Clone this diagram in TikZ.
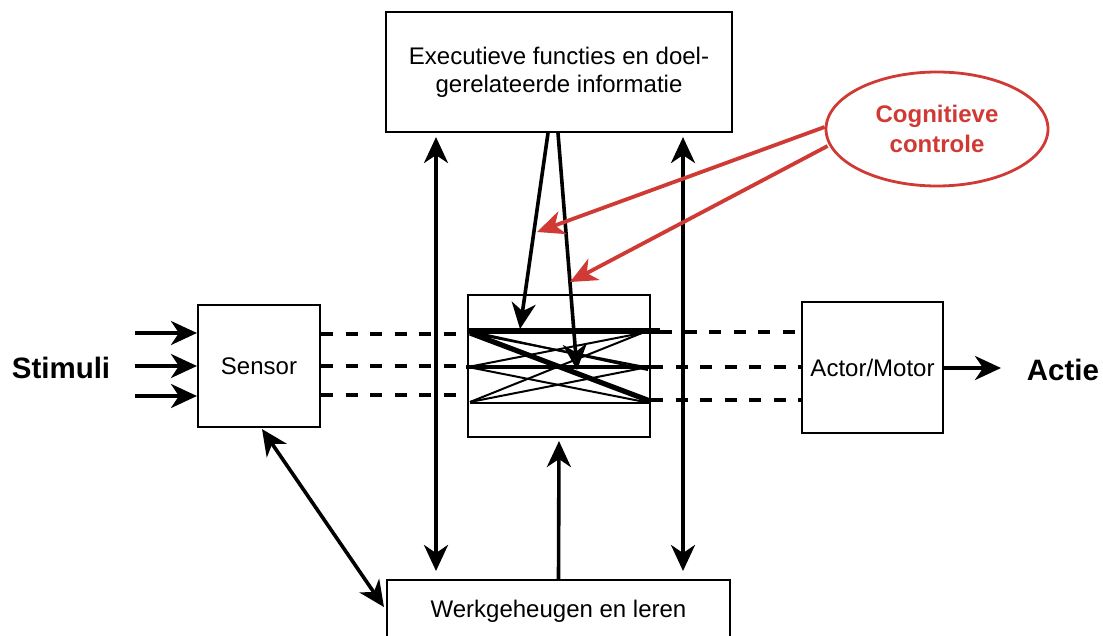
\documentclass[tikz,border=0pt]{standalone}
\usepackage{fontspec}
\setmainfont{Liberation Sans}
\usetikzlibrary{arrows.meta,shapes.geometric,calc}
\definecolor{ctrlred}{RGB}{208,58,52}
\begin{document}
\begin{tikzpicture}[x=1pt,y=-1pt,
  box/.style={draw=black,line width=2.1pt,inner sep=0pt,align=center,
    font=\fontsize{24}{28}\selectfont},
  arr/.style={line width=3.6pt,-{Stealth[length=26pt,width=24pt,inset=8pt]}},
  dbl/.style={line width=3.6pt,{Stealth[length=26pt,width=24pt,inset=8pt]}-{Stealth[length=26pt,width=24pt,inset=8pt]}},
  redarr/.style={draw=ctrlred,line width=3.8pt,-{Stealth[length=27pt,width=24pt,inset=8pt]}},
  dashline/.style={line width=3.8pt,dash pattern=on 12pt off 12.5pt},
  biglabel/.style={font=\fontsize{29.5}{34}\selectfont\bfseries},
]
\clip (0,0) rectangle (1103,635);

% blocks
\node[box,minimum width=346pt,minimum height=120pt] (top) at (559,72)
  {Executieve functies en doel-\\gerelateerde informatie};
\node[box,minimum width=122pt,minimum height=122pt] (sensor) at (259,366) {Sensor};
\node[box,minimum width=141pt,minimum height=131pt] (actor) at (872.5,367.5) {Actor/Motor};
\node[box,minimum width=182pt,minimum height=142pt] (mix) at (559,366) {};
\node[box,minimum width=343pt,minimum height=62pt,anchor=north] (bottom) at (558.5,579)
  {Werkgeheugen en leren};
\node[ellipse,draw=ctrlred,line width=2.8pt,minimum width=222pt,minimum height=114pt,
  inner sep=0pt,align=center,text=ctrlred,font=\fontsize{24}{30}\selectfont\bfseries]
  (ctrl) at (937,129) {Cognitieve\\controle};

% outer labels
\node[biglabel] (stim) at (61,368) {Stimuli};
\node[biglabel] (actie) at (1063,370) {Actie};

% incoming stimuli
\coordinate (s1) at (135,333);
\coordinate (s2) at (135,366);
\coordinate (s3) at (135,396);
\draw[arr] (s1) -- (sensor.west |- s1);
\draw[arr] (s2) -- (sensor.west |- s2);
\draw[arr] (s3) -- (sensor.west |- s3);

% action output
\coordinate (act) at (1001,368);
\draw[arr] (actor.east |- act) -- (act);

% dashed signal lines
\draw[dashline] (sensor.east |- 0,334) -- (mix.west |- 0,334);
\draw[dashline] (sensor.east |- 0,366) -- (mix.west |- 0,366);
\draw[dashline] (sensor.east |- 0,395) -- (mix.west |- 0,395);
\draw[dashline] (660,332) -- (actor.west |- 0,332);
\draw[dashline] (mix.east |- 0,367) -- (actor.west |- 0,367);
\draw[dashline] (mix.east |- 0,400) -- (actor.west |- 0,400);

% selection network inside the middle block
\draw[line width=6pt] (467,331) -- (660,331);
\draw[line width=3.2pt] (466,367) -- (650,367);
\draw[line width=2.2pt] (470,403) -- (650,403);
\draw[line width=2pt] (470,333) -- (645,367);
\draw[line width=2pt] (478,333) -- (648,370);
\draw[line width=2pt] (468,367) -- (642,333);
\draw[line width=2pt] (468,367) -- (645,402);
\draw[line width=2pt] (470,402) -- (642,333);
\draw[line width=2pt] (470,402) -- (648,367);
\draw[line width=5.2pt] (470,333) -- (650,401);

% top-down influence
\draw[arr] ($(top.south)+(-11,0)$) -- (520,329);
\draw[arr] ($(top.south)+(-1,0)$) -- (577,370);

% exchange with working memory
\draw[dbl] ($(top.south)+(-123,4)$) -- ($(bottom.north)+(-122.5,-8)$);
\draw[dbl] ($(top.south)+(124,4)$) -- ($(bottom.north)+(124.5,-8)$);
\draw[arr] (bottom.north) -- ($(mix.south)+(0,3)$);
\draw[dbl] ($(sensor.south)+(3,1)$) -- ($(bottom.west)+(-2,-4)$);

% cognitive control
\draw[redarr] ($(ctrl.west)+(0,-2)$) -- (537,232);
\draw[redarr] ($(ctrl.west)+(3,17)$) -- (570,282);
\end{tikzpicture}
\end{document}
